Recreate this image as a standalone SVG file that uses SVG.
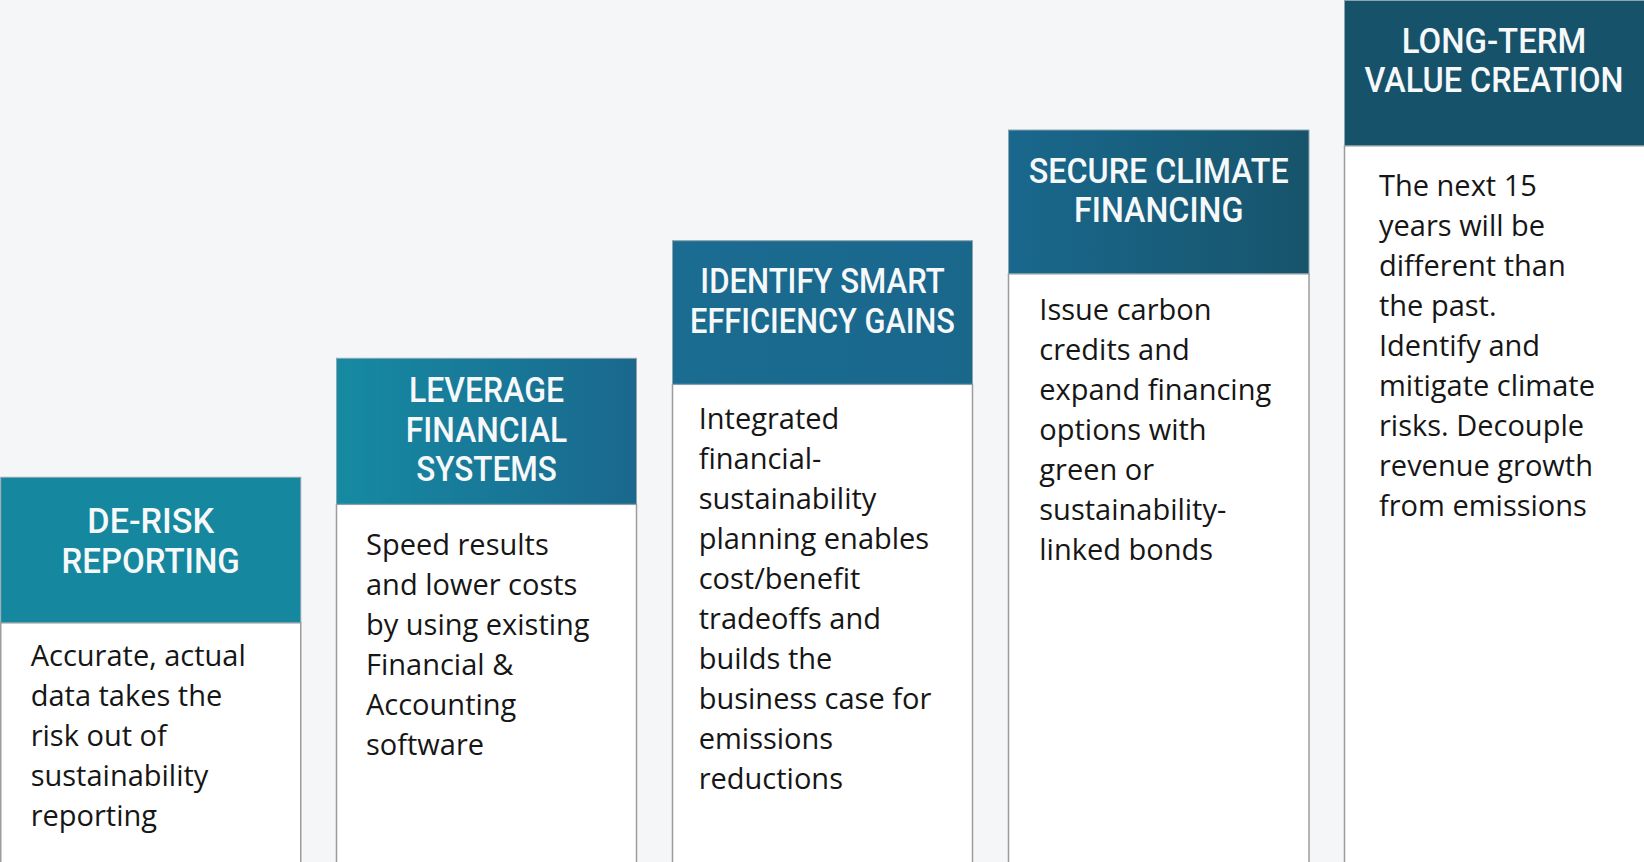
<svg xmlns="http://www.w3.org/2000/svg" width="1644" height="862" viewBox="0 0 1644 862">
<style>
.bg{fill:#f5f6f8}
.body{fill:#ffffff;stroke:#9c9c9c;stroke-width:1.5}
.head{stroke:#8fa3ad;stroke-width:1}
.ht{font-family:Roboto,"Liberation Sans",sans-serif;font-weight:500;font-size:35px;fill:#f6f8fa;text-anchor:middle}
.bt{font-family:"Open Sans","Noto Sans",sans-serif;font-size:29px;fill:#161616}
</style>
<defs>
<linearGradient id="g2" x1="0" y1="0" x2="1" y2="0"><stop offset="0" stop-color="#168aa2"/><stop offset="1" stop-color="#1a688d"/></linearGradient>
<linearGradient id="g3" x1="0" y1="0" x2="1" y2="0"><stop offset="0" stop-color="#1a6c90"/><stop offset="1" stop-color="#1a678c"/></linearGradient>
<linearGradient id="g4" x1="0" y1="0" x2="1" y2="0"><stop offset="0" stop-color="#19688d"/><stop offset="1" stop-color="#17546b"/></linearGradient>
</defs>
<rect class="bg" x="0" y="0" width="1644" height="862"/>

<g id="node-derisk">
<rect class="body" x="0.75" y="622.7" width="300" height="245"/>
<rect class="head" x="0.75" y="477.3" width="300" height="145.4" fill="#15879f"/>
<text class="ht" x="150.7" y="533.3" textLength="126.7" lengthAdjust="spacingAndGlyphs">DE-RISK</text>
<text class="ht" x="150.7" y="572.7" textLength="178.3" lengthAdjust="spacingAndGlyphs">REPORTING</text>
<text class="bt" x="30.7" y="666"><tspan x="30.7">Accurate, actual</tspan><tspan x="30.7" dy="40">data takes the</tspan><tspan x="30.7" dy="40">risk out of</tspan><tspan x="30.7" dy="40">sustainability</tspan><tspan x="30.7" dy="40">reporting</tspan></text>
</g>

<g id="node-leverage">
<rect class="body" x="336.5" y="504.3" width="300" height="365"/>
<rect class="head" x="336.5" y="358.3" width="300" height="146" fill="url(#g2)"/>
<text class="ht" x="486.5" y="401.7" textLength="155" lengthAdjust="spacingAndGlyphs">LEVERAGE</text>
<text class="ht" x="486.5" y="441.7" textLength="161.3" lengthAdjust="spacingAndGlyphs">FINANCIAL</text>
<text class="ht" x="486.5" y="480.7" textLength="140.7" lengthAdjust="spacingAndGlyphs">SYSTEMS</text>
<text class="bt" x="366" y="554.5"><tspan x="366">Speed results</tspan><tspan x="366" dy="40">and lower costs</tspan><tspan x="366" dy="40">by using existing</tspan><tspan x="366" dy="40">Financial &amp;</tspan><tspan x="366" dy="40">Accounting</tspan><tspan x="366" dy="40">software</tspan></text>
</g>

<g id="node-identify">
<rect class="body" x="672.5" y="384.3" width="300" height="485"/>
<rect class="head" x="672.5" y="240.7" width="300" height="143.6" fill="url(#g3)"/>
<text class="ht" x="822.5" y="293.3" textLength="244.3" lengthAdjust="spacingAndGlyphs">IDENTIFY SMART</text>
<text class="ht" x="822.5" y="333.3" textLength="265" lengthAdjust="spacingAndGlyphs">EFFICIENCY GAINS</text>
<text class="bt" x="698.7" y="429.2"><tspan x="698.7">Integrated</tspan><tspan x="698.7" dy="40">financial-</tspan><tspan x="698.7" dy="40">sustainability</tspan><tspan x="698.7" dy="40">planning enables</tspan><tspan x="698.7" dy="40">cost/benefit</tspan><tspan x="698.7" dy="40">tradeoffs and</tspan><tspan x="698.7" dy="40">builds the</tspan><tspan x="698.7" dy="40">business case for</tspan><tspan x="698.7" dy="40">emissions</tspan><tspan x="698.7" dy="40">reductions</tspan></text>
</g>

<g id="node-secure">
<rect class="body" x="1008.5" y="273.7" width="300.5" height="595"/>
<rect class="head" x="1008.5" y="130" width="300.5" height="143.7" fill="url(#g4)"/>
<text class="ht" x="1158.7" y="183.3" textLength="260" lengthAdjust="spacingAndGlyphs">SECURE CLIMATE</text>
<text class="ht" x="1158.7" y="222.3" textLength="169.3" lengthAdjust="spacingAndGlyphs">FINANCING</text>
<text class="bt" x="1039.3" y="320"><tspan x="1039.3">Issue carbon</tspan><tspan x="1039.3" dy="40">credits and</tspan><tspan x="1039.3" dy="40">expand financing</tspan><tspan x="1039.3" dy="40">options with</tspan><tspan x="1039.3" dy="40">green or</tspan><tspan x="1039.3" dy="40">sustainability-</tspan><tspan x="1039.3" dy="40">linked bonds</tspan></text>
</g>

<g id="node-longterm">
<rect class="body" x="1344.5" y="145.7" width="302" height="725"/>
<rect class="head" x="1344.5" y="0.5" width="302" height="145.2" fill="#17526b"/>
<text class="ht" x="1494" y="53.3" textLength="184.3" lengthAdjust="spacingAndGlyphs">LONG-TERM</text>
<text class="ht" x="1494" y="91.7" textLength="259" lengthAdjust="spacingAndGlyphs">VALUE CREATION</text>
<text class="bt" x="1379" y="196.3"><tspan x="1379">The next 15</tspan><tspan x="1379" dy="40">years will be</tspan><tspan x="1379" dy="40">different than</tspan><tspan x="1379" dy="40">the past.</tspan><tspan x="1379" dy="40">Identify and</tspan><tspan x="1379" dy="40">mitigate climate</tspan><tspan x="1379" dy="40">risks. Decouple</tspan><tspan x="1379" dy="40">revenue growth</tspan><tspan x="1379" dy="40">from emissions</tspan></text>
</g>

<g id="connectors"></g>
</svg>
